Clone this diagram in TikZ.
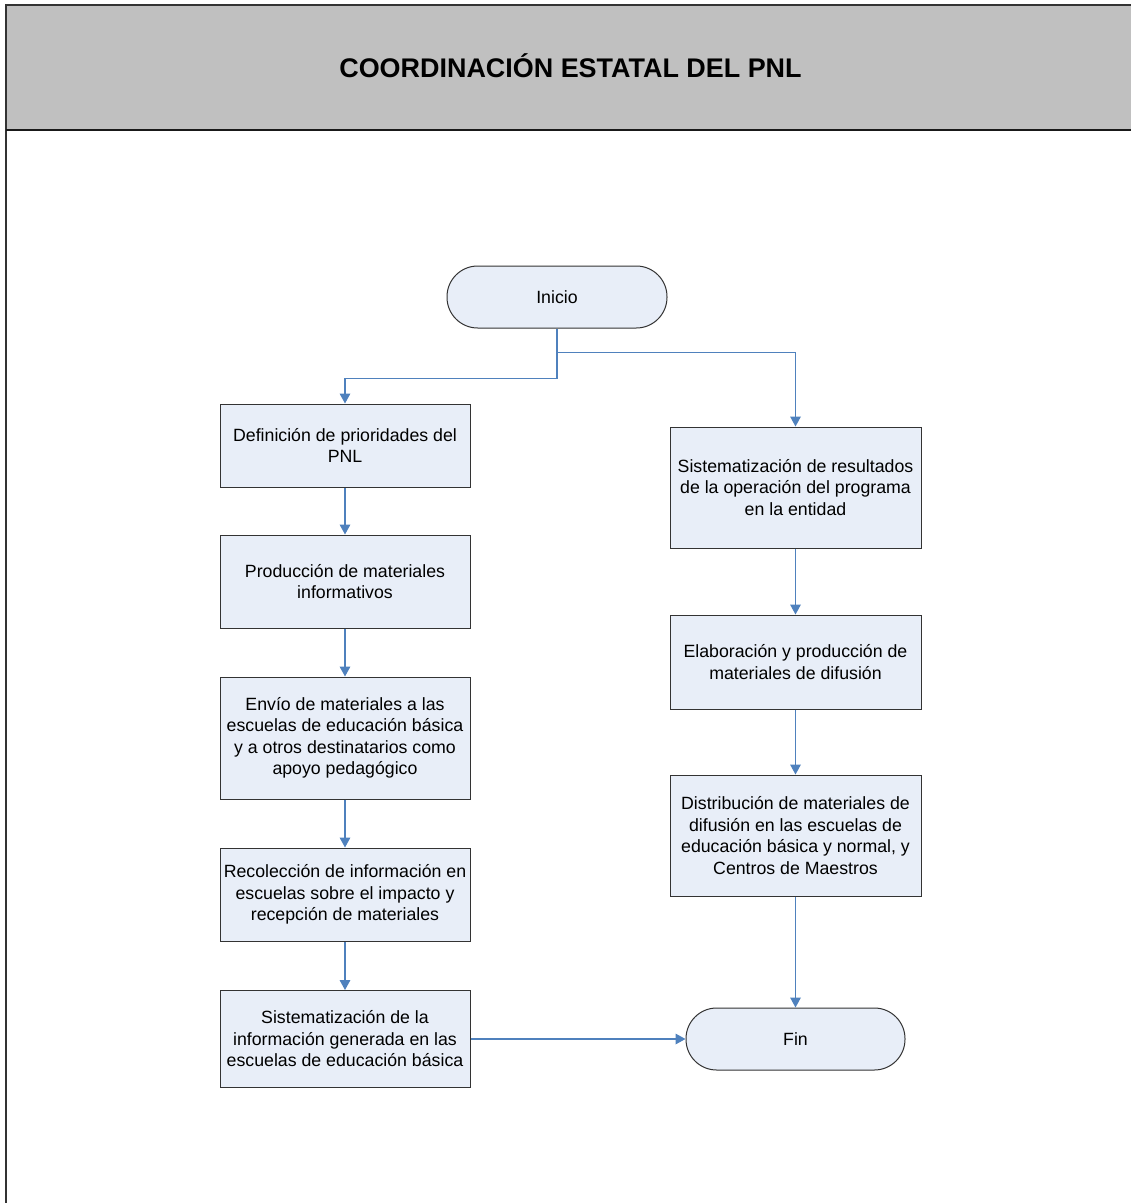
\documentclass[tikz,border=0pt]{standalone}
\usepackage{fontspec}
\setmainfont{Liberation Sans}
\usetikzlibrary{arrows.meta}
\definecolor{boxfill}{HTML}{E8EEF8}
\definecolor{flowblue}{HTML}{4F81BD}
\definecolor{headgray}{HTML}{C0C0C0}
\tikzset{
  procbox/.style={draw=black!80, line width=0.75pt, fill=boxfill, align=center,
    inner sep=0pt, minimum width=187.5pt, font=\fontsize{13.3}{16.1}\selectfont},
  termbox/.style={procbox, rounded corners=23pt, minimum height=46.5pt},
  flow/.style={draw=flowblue, line width=0.9pt, -{Triangle[width=8pt,length=7.5pt]}}
}
\begin{document}
\begin{tikzpicture}[x=0.75pt,y=-0.75pt]
\useasboundingbox (0,0) rectangle (1131,1203);
\fill[headgray] (6,5) rectangle (1131,130);
\draw[line width=1.5pt, black!80] (1131,5) -- (6,5) -- (6,1203);
\draw[line width=1.2pt, black!90] (6,130) -- (1131,130);
\node[font=\fontsize{20.2}{24}\selectfont\bfseries] (title) at (570.5,66) {COORDINACIÓN ESTATAL DEL PNL};

\node[termbox, minimum width=165pt] (inicio) at (557,297) {Inicio};
\node[procbox, minimum height=62.25pt] (b1) at (345,445.5) {Definición de prioridades del\\PNL};
\node[procbox, minimum height=69.75pt] (b2) at (345,581.5) {Producción de materiales\\informativos};
\node[procbox, minimum height=91.5pt] (b3) at (345,738) {Envío de materiales a las\\escuelas de educación básica\\y a otros destinatarios como\\apoyo pedagógico};
\node[procbox, minimum height=69.75pt] (b4) at (345,894.5) {Recolección de información en\\escuelas sobre el impacto y\\recepción de materiales};
\node[procbox, minimum height=72.75pt] (b5) at (345,1039) {Sistematización de la\\información generada en las\\escuelas de educación básica};

\node[procbox, minimum width=188.25pt, minimum height=90.75pt] (r1) at (795.5,487.5) {Sistematización de resultados\\de la operación del programa\\en la entidad};
\node[procbox, minimum width=188.25pt, minimum height=70.5pt] (r2) at (795.5,662) {Elaboración y producción de\\materiales de difusión};
\node[procbox, minimum width=188.25pt, minimum height=90.75pt] (r3) at (795.5,835.5) {Distribución de materiales de\\difusión en las escuelas de\\educación básica y normal, y\\Centros de Maestros};
\node[termbox, minimum width=164.25pt] (fin) at (795.5,1039) {Fin};

\draw[flow] (inicio.south) -- ++(0,50) -| (b1.north);
\draw[flow] (inicio.south) -- ++(0,24) -| (r1.north);
\draw[flow] (b1) -- (b2);
\draw[flow] (b2) -- (b3);
\draw[flow] (b3) -- (b4);
\draw[flow] (b4) -- (b5);
\draw[flow] (b5) -- (fin);
\draw[flow] (r1) -- (r2);
\draw[flow] (r2) -- (r3);
\draw[flow] (r3) -- (fin);
\end{tikzpicture}
\end{document}
